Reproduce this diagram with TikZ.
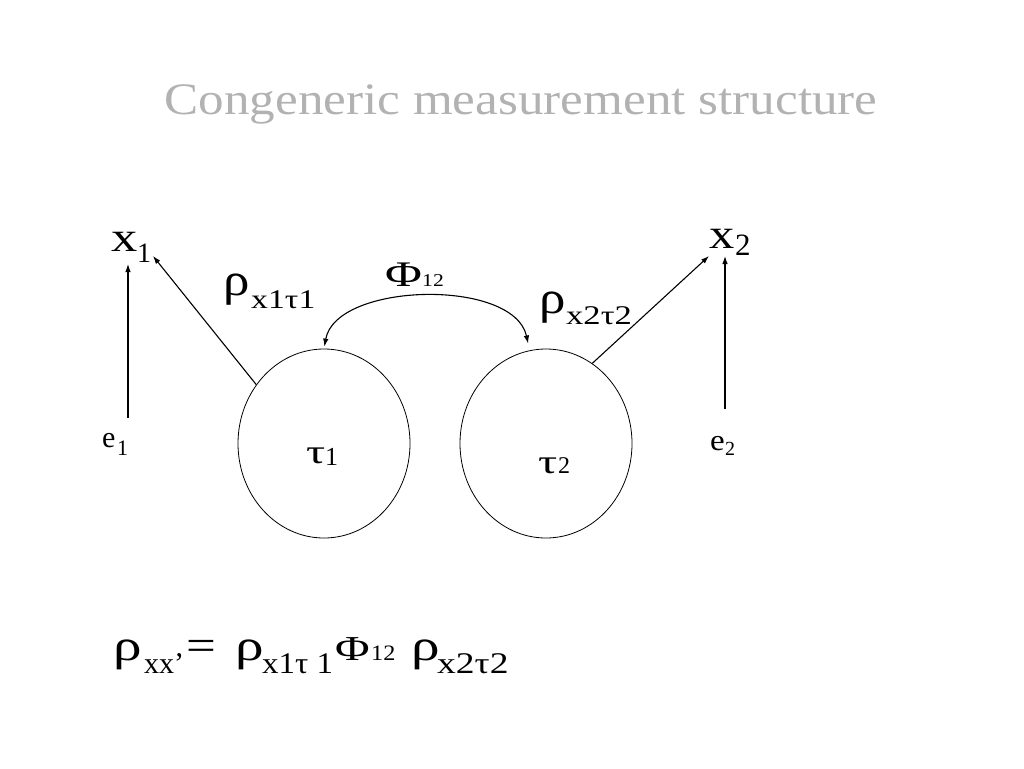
\documentclass[tikz,border=0pt]{standalone}
\usepackage{fontspec}
\usepackage{graphicx}
\setmainfont{Liberation Serif}
\usetikzlibrary{arrows.meta,shapes.geometric}
\definecolor{titlegray}{RGB}{178,178,178}
\newcommand\stx[3]{\scalebox{#1}[1]{\fontsize{#2}{#2}\selectfont #3}}
\tikzset{
  tip/.style={-{Latex[length=8pt,width=5.5pt]}, line width=1.1pt},
  dtip/.style={{Latex[length=8pt,width=5.5pt]}-{Latex[length=8pt,width=5.5pt]}, line width=1.1pt},
  latent/.style={draw, line width=0.8pt, ellipse, minimum width=172pt, minimum height=189pt, inner sep=0pt},
  lbl/.style={inner sep=0pt, anchor=base west}
}
\begin{document}
\begin{tikzpicture}[x=1pt,y=-1pt]
\useasboundingbox (0,0) rectangle (1024,768);
\node[inner sep=0pt, anchor=base, text=titlegray] (title) at (521,114) {\stx{1.137}{45}{Congeneric measurement structure}};
% latent variables
\node[latent] (t1) at (324,443.5) {};
\node[latent] (t2) at (546,443.5) {};
\node[lbl] (t1a) at (306,463) {\stx{1.4}{34}{τ}};
\node[lbl] (t1b) at (325,465) {\stx{1}{26}{1}};
\node[lbl] (t2a) at (538,473) {\stx{1.4}{34}{τ}};
\node[lbl] (t2b) at (558,473) {\stx{1}{24}{2}};
% observed
\node[lbl] (x1a) at (111,251) {\stx{1.25}{42}{x}};
\node[lbl] (x1b) at (137,262) {\stx{1}{28}{1}};
\node[lbl] (x2a) at (709,248) {\stx{1.2}{42}{x}};
\node[lbl] (x2b) at (735,255) {\stx{1}{31}{2}};
\node[lbl] (e1a) at (102,447) {\stx{1}{30}{e}};
\node[lbl] (e1b) at (117,455) {\stx{1}{22}{1}};
\node[lbl] (e2a) at (710,450) {\stx{1.1}{30}{e}};
\node[lbl] (e2b) at (725,455) {\stx{1}{20}{2}};
% connector ends
\coordinate (e1arr) at (128,418);
\coordinate (x1arr) at (128,264);
\coordinate (e2arr) at (725,409);
\coordinate (x2arr) at (725,256);
\coordinate (x1tip) at (153,256);
\coordinate (x2tip) at (709,256);
\draw[tip] (e1arr) -- (x1arr);
\draw[tip] (e2arr) -- (x2arr);
\draw[tip] (t1.139) -- (x1tip);
\draw[tip] (t2.60) -- (x2tip);
\draw[dtip, shorten <=2pt, shorten >=7pt] (t1.90) .. controls (336,282) and (514,278) .. (t2.100);
% path labels
\node[lbl] (phia) at (385,286) {\stx{1.4}{36}{Φ}};
\node[lbl] (phib) at (422,286) {\stx{1.2}{18}{12}};
\node[lbl] (r1a) at (223,295) {\stx{1.15}{46}{ρ}};
\node[lbl] (r1b) at (251,308) {\stx{1.25}{27}{x1τ1}};
\node[lbl] (r2a) at (539,313) {\stx{1.15}{46}{ρ}};
\node[lbl] (r2b) at (566,324) {\stx{1.28}{27}{x2τ2}};
% formula
\node[lbl] (fr1) at (113,660) {\stx{1.3}{44}{ρ}};
\node[lbl] (fs1) at (144,673) {\stx{1}{30}{xx’}};
\node[lbl] (feq) at (186,660) {\stx{1.2}{44}{=}};
\node[lbl] (fr2) at (235,660) {\stx{1.3}{44}{ρ}};
\node[lbl] (fs2) at (262,673) {\stx{1.1}{30}{x1τ 1}};
\node[lbl] (fphi) at (335,660) {\stx{1.35}{35}{Φ}};
\node[lbl] (f12) at (371,660) {\stx{1.1}{22}{12}};
\node[lbl] (fr3) at (411,660) {\stx{1.3}{44}{ρ}};
\node[lbl] (fs3) at (437,673) {\stx{1.25}{30}{x2τ2}};
\end{tikzpicture}
\end{document}
